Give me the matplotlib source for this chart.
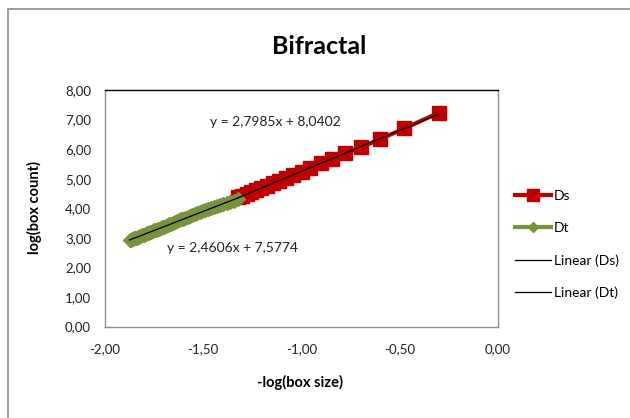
import numpy as np
import matplotlib
matplotlib.use("Agg")
import matplotlib.pyplot as plt
from matplotlib.lines import Line2D
from matplotlib.patches import Rectangle

plt.rcParams['font.family'] = ['Lato', 'DejaVu Sans']

title = "Bifractal"
x_label = "-log(box size)"
y_label = "log(box count)"

# box sizes (pixels) for each series
ds_box = [2, 3, 4, 5, 6, 7, 8, 9, 10, 11, 12, 13, 14, 15, 16, 17, 18, 19, 20, 21]
ds_logcount = [7.23, 6.70, 6.33, 6.06, 5.86, 5.66, 5.52, 5.37, 5.24, 5.12,
               5.02, 4.93, 4.84, 4.76, 4.69, 4.62, 4.55, 4.48, 4.43, 4.37]

dt_box = list(range(21, 76))
dt_logcount = [4.31, 4.26, 4.22, 4.18, 4.14, 4.10, 4.07, 4.03, 4.00, 3.97,
               3.93, 3.90, 3.86, 3.83, 3.80, 3.77, 3.74, 3.71, 3.68, 3.65,
               3.62, 3.59, 3.57, 3.54, 3.51, 3.48, 3.46, 3.43, 3.41, 3.38,
               3.36, 3.34, 3.31, 3.29, 3.27, 3.25, 3.23, 3.21, 3.19, 3.17,
               3.15, 3.13, 3.11, 3.09, 3.08, 3.06, 3.04, 3.02, 3.01, 2.99,
               2.98, 2.96, 2.95, 2.94, 2.93]

x_ticks = [-2.0, -1.5, -1.0, -0.5, 0.0]
y_ticks = [0, 1, 2, 3, 4, 5, 6, 7, 8]

eq_ds = "y = 2,7985x + 8,0402"
eq_dt = "y = 2,4606x + 7,5774"

ds_x = -np.log10(np.array(ds_box, dtype=float))
dt_x = -np.log10(np.array(dt_box, dtype=float))
ds_y = np.array(ds_logcount)
dt_y = np.array(dt_logcount)

RED = "#C00000"
GREEN = "#77933C"

fig = plt.figure(figsize=(6.3, 4.18), dpi=100)
fig.patches.append(Rectangle((8/630, -0.1), 1.2, (418-9)/418 + 0.1, transform=fig.transFigure,
                             fill=False, edgecolor="#8c8c8c", linewidth=1.2))
ax = fig.add_axes([105/630, (418-326.5)/418, (498-105)/630, (326.5-90)/418])

ax.plot(ds_x, ds_y, color=RED, linewidth=3.0, marker='s', markersize=9.5,
        markeredgecolor=RED, label="Ds", zorder=3)
ax.plot(dt_x, dt_y, color=GREEN, linewidth=3.5, marker='D', markersize=7,
        markeredgecolor=GREEN, label="Dt", zorder=4)

# linear trendlines
p_ds = np.polyfit(ds_x, ds_y, 1)
p_dt = np.polyfit(dt_x, dt_y, 1)
xs = np.array([ds_x.min(), ds_x.max()])
ax.plot(xs, np.polyval(p_ds, xs), color="black", linewidth=0.9, zorder=5, label="Linear (Ds)")
xt = np.array([dt_x.min(), dt_x.max()])
ax.plot(xt, np.polyval(p_dt, xt), color="black", linewidth=0.9, zorder=5, label="Linear (Dt)")

ax.set_xlim(-2.0, 0.0)
ax.set_ylim(0, 8)
ax.set_xticks(x_ticks)
ax.set_yticks(y_ticks)
ax.set_xticklabels([f"{v:.2f}".replace(".", ",") for v in x_ticks])
ax.set_yticklabels([f"{v:.2f}".replace(".", ",") for v in y_ticks])
ax.tick_params(length=0, labelsize=9.5, colors="#222222")
ax.tick_params(axis='x', pad=12)
ax.tick_params(axis='y', pad=10)
for s in ['left', 'bottom', 'right']:
    ax.spines[s].set_color("#8c8c8c")
    ax.spines[s].set_linewidth(1.0)
ax.spines['top'].set_color("black")
ax.spines['top'].set_linewidth(1.0)

ax.text(-1.135, 6.92, eq_ds, fontsize=10, ha='center', va='center', color="#222222")
ax.text(-1.35, 2.66, eq_dt, fontsize=10, ha='center', va='center', color="#222222")

fig.text(319/630, 1 - 47/418, title, fontsize=18, fontweight='bold', ha='center', va='center')
fig.text(300/630, 1 - 382/418, x_label, fontsize=10.5, fontweight='bold', ha='center', va='center')
fig.text(34/630, 1 - 208/418, y_label, fontsize=10.5, fontweight='bold', ha='center', va='center',
         rotation=90)

handles = [
    Line2D([], [], color=RED, linewidth=3.0, marker='s', markersize=8, markeredgecolor=RED),
    Line2D([], [], color=GREEN, linewidth=3.0, marker='D', markersize=5, markeredgecolor=GREEN),
    Line2D([], [], color="black", linewidth=0.9),
    Line2D([], [], color="black", linewidth=0.9),
]
fig.legend(handles, ["Ds", "Dt", "Linear (Ds)", "Linear (Dt)"], loc='upper left',
           bbox_to_anchor=(505/630, 1 - 180/418), frameon=False, fontsize=10,
           handlelength=2.6, handletextpad=0.2, labelspacing=1.45, borderpad=0.2)

fig.savefig("out.png", dpi=100)
